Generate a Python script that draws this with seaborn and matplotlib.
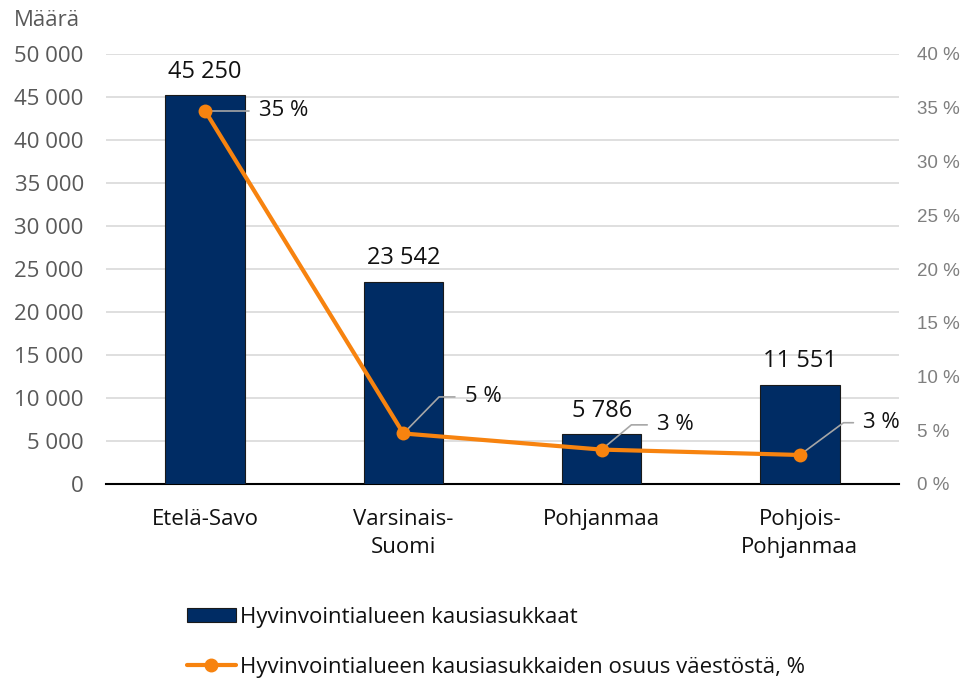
import matplotlib
matplotlib.use("Agg")
import matplotlib.pyplot as plt
import seaborn as sns
import pandas as pd
from matplotlib.ticker import FuncFormatter, MultipleLocator
from matplotlib.patches import Patch
from matplotlib.lines import Line2D

categories = ["Etelä-Savo", "Varsinais-\nSuomi", "Pohjanmaa", "Pohjois-\nPohjanmaa"]
residents = [45250, 23542, 5786, 11551]
share_pct = [34.7, 4.7, 3.2, 2.7]
share_labels = ["35 %", "5 %", "3 %", "3 %"]
bar_name = "Hyvinvointialueen kausiasukkaat"
line_name = "Hyvinvointialueen kausiasukkaiden osuus väestöstä, %"

sns.set_theme(style="white")
plt.rcParams['font.family'] = ['Open Sans', 'DejaVu Sans']

df = pd.DataFrame({"cat": categories, "n": residents, "p": share_pct})

BAR = "#002c64"
ORANGE = "#f7830f"
TICKC = "#595959"
FS = 16

fig = plt.figure(figsize=(9.68, 6.83), dpi=100)
ax = fig.add_axes([106/968, 1-484/683, (899-106)/968, (484-54)/683])

sns.barplot(data=df, x="cat", y="n", color=BAR, width=0.40, ax=ax,
            edgecolor="#1a1a1a", linewidth=0.8, saturation=1, zorder=3)
ax.set_xlim(-0.5, 3.5)
ax.set_ylim(0, 50000)
ax.yaxis.set_major_locator(MultipleLocator(5000))
ax.yaxis.set_major_formatter(FuncFormatter(lambda v, p: f"{int(v):,}".replace(",", " ")))
ax.grid(axis="y", color="#d9d9d9", linewidth=1.2, zorder=0)
ax.set_axisbelow(True)
for s in ["left", "right", "top"]:
    ax.spines[s].set_visible(False)
ax.spines["bottom"].set_color("#000000")
ax.spines["bottom"].set_linewidth(1.5)
ax.set_xlabel("")
ax.set_ylabel("")
ax.tick_params(axis="y", labelsize=FS, colors=TICKC, length=0, pad=16)
ax.tick_params(axis="x", labelsize=FS, colors="#111111", length=0, pad=18)
for t in ax.get_xticklabels():
    t.set_linespacing(1.45)

for i, v in enumerate(residents):
    ax.text(i, v + 1300, f"{v:,}".replace(",", " "), ha="center", va="bottom",
            fontsize=FS + 1, color="#111111")

fig.text(14/968, 1-20/683, "Määrä", fontsize=FS, color=TICKC, ha="left", va="center")

ax2 = ax.twinx()
sns.lineplot(data=df, x="cat", y="p", color=ORANGE, linewidth=3, marker="o",
             markersize=10, markeredgewidth=0, ax=ax2, sort=False, zorder=5)
ax2.set_ylim(0, 40)
ax2.set_xlim(-0.5, 3.5)
ax2.yaxis.set_major_locator(MultipleLocator(5))
ax2.yaxis.set_major_formatter(FuncFormatter(lambda v, p: f"{int(v)} %"))
ax2.tick_params(axis="y", labelsize=13.5, colors="#7f7f7f", length=0, pad=13)
for t in ax2.get_yticklabels():
    t.set_fontfamily(["Liberation Sans", "DejaVu Sans"])
for s in ["left", "right", "top", "bottom"]:
    ax2.spines[s].set_visible(False)
ax2.set_ylabel("")
ax2.set_xlabel("")
ax2.grid(False)

# leader lines + labels (offsets in axis units)
offsets = [(0.22, 0.0, 0.0), (0.18, 3.4, 0.08), (0.15, 2.3, 0.08), (0.22, 3.0, 0.05)]
for i, (p, lab) in enumerate(zip(share_pct, share_labels)):
    dx, dy, hx = offsets[i]
    x1, y1 = i + dx, p + dy
    ax2.plot([i, x1, x1 + hx], [p, y1, y1], color="#a6a6a6", linewidth=1.2, zorder=4)
    ax2.text(x1 + hx + 0.05, y1, lab, ha="left", va="center", fontsize=FS, color="#111111")

handles = [Patch(facecolor=BAR, edgecolor="#1a1a1a", linewidth=0.8),
           Line2D([0], [0], color=ORANGE, linewidth=3, marker="o", markersize=9)]
fig.legend(handles, [bar_name, line_name], loc="upper left",
           bbox_to_anchor=(187/968, 1-607/683), frameon=False, fontsize=FS,
           handlelength=2.2, handleheight=0.6, handletextpad=0.2, labelspacing=1.3,
           borderpad=0, borderaxespad=0, labelcolor="#111111")

fig.savefig("out.png", dpi=100)
